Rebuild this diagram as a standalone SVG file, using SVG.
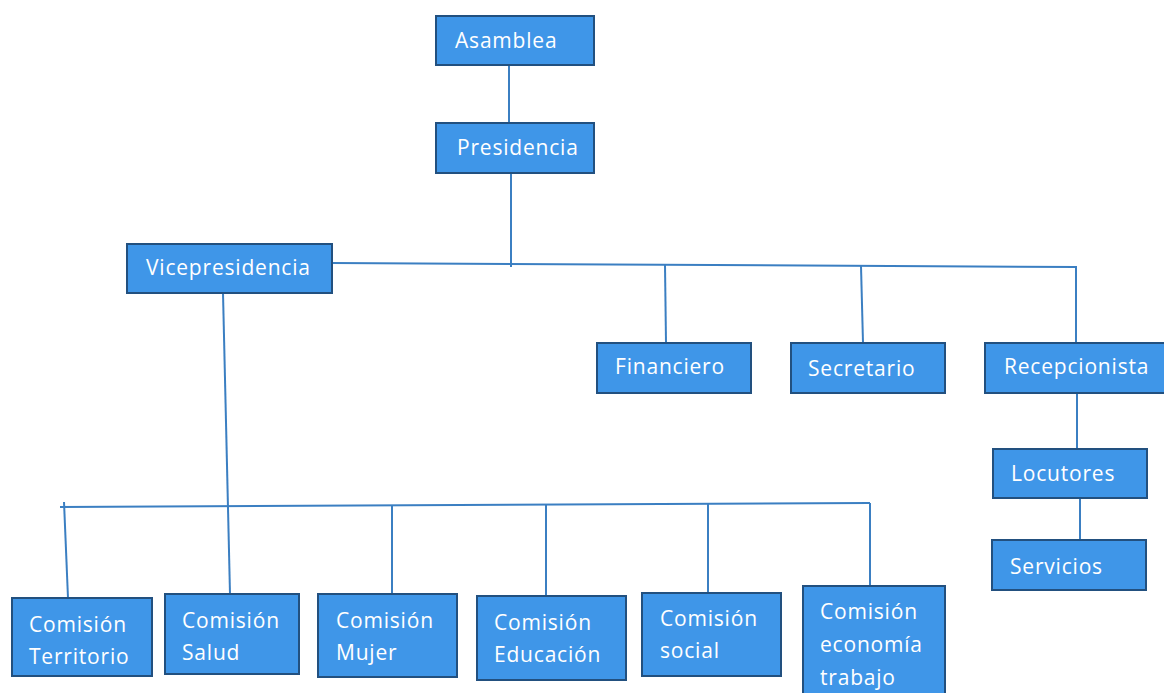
<svg xmlns="http://www.w3.org/2000/svg" width="1164" height="693" viewBox="0 0 1164 693">
<style>
.box{fill:#3f96e8;stroke:#22507f;stroke-width:2}
.t{font-family:"Open Sans","Liberation Sans",sans-serif;font-size:21px;letter-spacing:0.8px;fill:#ffffff}
.c{stroke:#3b7fc2;stroke-width:2;fill:none}
</style>
<rect width="1164" height="693" fill="#ffffff"/>
<g id="connectors">
<line class="c" x1="509" y1="65" x2="509" y2="123"/>
<line class="c" x1="511" y1="173" x2="511" y2="267"/>
<polyline class="c" points="332,263 1076,267 1076,343"/>
<line class="c" x1="665" y1="265" x2="666" y2="343"/>
<line class="c" x1="861" y1="266" x2="863" y2="343"/>
<line class="c" x1="1077" y1="393" x2="1077" y2="449"/>
<line class="c" x1="1080" y1="498" x2="1080" y2="540"/>
<line class="c" x1="223" y1="293" x2="230" y2="594"/>
<line class="c" x1="60" y1="507" x2="870" y2="503"/>
<line class="c" x1="64" y1="502" x2="68" y2="598"/>
<line class="c" x1="392" y1="505" x2="392" y2="594"/>
<line class="c" x1="546" y1="504" x2="546" y2="596"/>
<line class="c" x1="708" y1="504" x2="708" y2="593"/>
<line class="c" x1="870" y1="503" x2="870" y2="586"/>
</g>
<g id="asamblea"><rect class="box" x="436" y="16" width="158" height="49"/><text class="t" x="455" y="48">Asamblea</text></g>
<g id="presidencia"><rect class="box" x="436" y="123" width="158" height="50"/><text class="t" x="457" y="155">Presidencia</text></g>
<g id="vicepresidencia"><rect class="box" x="127" y="244" width="205" height="49"/><text class="t" x="146" y="275">Vicepresidencia</text></g>
<g id="financiero"><rect class="box" x="597" y="343" width="154" height="50"/><text class="t" x="615" y="374">Financiero</text></g>
<g id="secretario"><rect class="box" x="791" y="343" width="154" height="50"/><text class="t" x="808" y="376">Secretario</text></g>
<g id="recepcionista"><rect class="box" x="985" y="343" width="180" height="50"/><text class="t" x="1004" y="374">Recepcionista</text></g>
<g id="locutores"><rect class="box" x="993" y="449" width="154" height="49"/><text class="t" x="1011" y="481">Locutores</text></g>
<g id="servicios"><rect class="box" x="992" y="540" width="154" height="50"/><text class="t" x="1010" y="574">Servicios</text></g>
<g id="territorio"><rect class="box" x="12" y="598" width="140" height="78"/><text class="t" x="29" y="632">Comisión</text><text class="t" x="29" y="664">Territorio</text></g>
<g id="salud"><rect class="box" x="165" y="594" width="134" height="80"/><text class="t" x="182" y="628">Comisión</text><text class="t" x="182" y="660">Salud</text></g>
<g id="mujer"><rect class="box" x="318" y="594" width="139" height="83"/><text class="t" x="336" y="628">Comisión</text><text class="t" x="336" y="660">Mujer</text></g>
<g id="educacion"><rect class="box" x="477" y="596" width="149" height="84"/><text class="t" x="494" y="630">Comisión</text><text class="t" x="494" y="662">Educación</text></g>
<g id="social"><rect class="box" x="642" y="593" width="139" height="83"/><text class="t" x="660" y="626">Comisión</text><text class="t" x="660" y="658">social</text></g>
<g id="economia"><rect class="box" x="803" y="586" width="142" height="110"/><text class="t" x="820" y="619">Comisión</text><text class="t" x="820" y="652">economía</text><text class="t" x="820" y="685">trabajo</text></g>
</svg>
